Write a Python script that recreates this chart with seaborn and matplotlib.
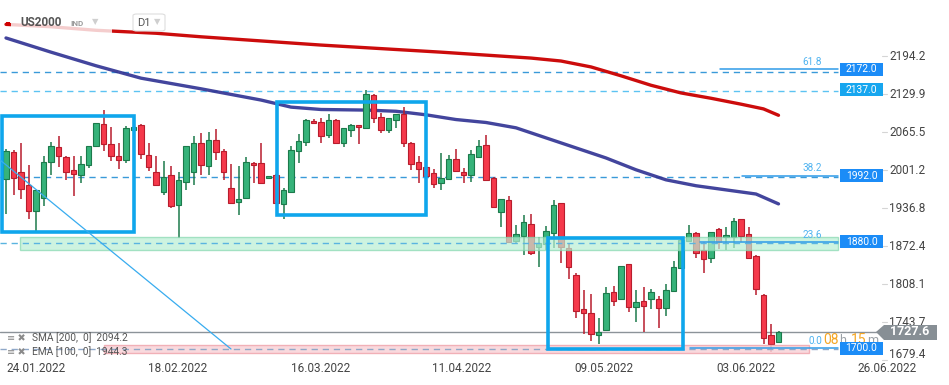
import matplotlib
matplotlib.use("Agg")
import matplotlib.pyplot as plt
from matplotlib.patches import Rectangle, FancyBboxPatch, Polygon
import numpy as np
import pandas as pd
import seaborn as sns

# daily candles, US2000 (D1)
opens = [1986, 2032, 1998, 1976, 1933, 1955, 2016, 2040, 2023, 2001,
         1994, 2010, 2043, 2079, 2045, 2025, 2018, 2070, 2077, 2027,
         1998, 1964, 1993, 1942, 1981, 1998, 2048, 2008, 2052, 2033,
         1972, 1947, 1955, 2014, 2013, 1988, 1993, 1944, 1964, 2033,
         2049, 2085, 2083, 2061, 2087, 2047, 2070, 2077, 2072, 2129,
         2091, 2070, 2087, 2096, 2048, 2015, 2006, 1996, 1979, 1986,
         2021, 1999, 1994, 2024, 2044, 1988, 1930, 1951, 1882, 1890,
         1910, 1871, 1877, 1895, 1945, 1869, 1824, 1766, 1759, 1722,
         1731, 1796, 1783, 1843, 1770, 1780, 1783, 1783, 1769, 1797,
         1835, 1882, 1895, 1866, 1852, 1901, 1888, 1889, 1918, 1893,
         1856, 1791, 1722, 1711]
highs = [2038, 2035, 2048, 2010, 1968, 2025, 2049, 2059, 2025, 2025,
         2025, 2043, 2081, 2103, 2074, 2048, 2076, 2075, 2080, 2048,
         2025, 2017, 2008, 1998, 2042, 2059, 2064, 2066, 2071, 2037,
         2012, 2008, 2023, 2015, 2048, 1992, 1995, 1971, 2042, 2062,
         2088, 2088, 2089, 2096, 2088, 2072, 2079, 2077, 2137, 2131,
         2098, 2089, 2096, 2108, 2049, 2025, 2008, 2003, 2031, 2027,
         2037, 2005, 2035, 2052, 2061, 1990, 1952, 1958, 1909, 1925,
         1928, 1889, 1907, 1951, 1946, 1876, 1827, 1799, 1792, 1752,
         1803, 1805, 1840, 1843, 1799, 1803, 1800, 1789, 1809, 1848,
         1889, 1909, 1896, 1880, 1897, 1904, 1905, 1920, 1919, 1905,
         1858, 1792, 1741, 1730]
lows = [1927, 1959, 1952, 1919, 1899, 1940, 1993, 2007, 1984, 1958,
        1980, 2005, 2043, 2034, 2017, 2003, 2013, 2069, 2020, 2000,
        1977, 1960, 1938, 1886, 1967, 1976, 1993, 1993, 2019, 1984,
        1945, 1925, 1953, 1979, 1978, 1986, 1945, 1918, 1964, 2014,
        2042, 2080, 2048, 2055, 2046, 2041, 2058, 2045, 2072, 2081,
        2064, 2065, 2073, 2040, 2001, 1980, 1990, 1972, 1967, 1986,
        2000, 1979, 1982, 2024, 1983, 1937, 1905, 1880, 1876, 1858,
        1857, 1837, 1866, 1869, 1845, 1817, 1752, 1724, 1713, 1707,
        1729, 1772, 1783, 1762, 1745, 1728, 1766, 1734, 1755, 1795,
        1834, 1880, 1852, 1828, 1845, 1868, 1867, 1869, 1880, 1851,
        1791, 1708, 1693, 1710]
closes = [2034, 1988, 1969, 1933, 1967, 2015, 2042, 2026, 1998, 1995,
          2011, 2043, 2081, 2045, 2025, 2018, 2072, 2074, 2028, 2006,
          1977, 1989, 1940, 1984, 2042, 2047, 2010, 2052, 2032, 1999,
          1945, 1952, 2015, 2010, 1979, 1992, 1945, 1967, 2036, 2051,
          2087, 2081, 2060, 2087, 2047, 2072, 2077, 2074, 2131, 2089,
          2069, 2089, 2096, 2047, 2011, 2004, 1992, 1978, 1988, 2021,
          2000, 1994, 2029, 2042, 1985, 1939, 1952, 1880, 1893, 1913,
          1862, 1878, 1898, 1943, 1871, 1837, 1763, 1759, 1724, 1728,
          1793, 1780, 1840, 1770, 1778, 1772, 1796, 1768, 1799, 1837,
          1884, 1895, 1862, 1851, 1897, 1880, 1891, 1915, 1890, 1853,
          1800, 1717, 1707, 1727.6]

# moving averages (sampled along the candle index)
sma_idx = [0, 6, 12, 20, 26, 34, 42, 50, 58, 64, 70, 74, 78, 82, 86, 90, 94, 98, 101, 103]
sma_val = [2248, 2244, 2238, 2233, 2227, 2220, 2213, 2207, 2201, 2196,
           2191, 2186, 2176, 2161, 2145, 2132, 2123, 2113, 2105, 2094.2]
ema_idx = [0, 6, 12, 18, 26, 34, 38, 42, 48, 52, 56, 60, 64, 68, 72, 76, 80, 84, 88, 92, 96, 100, 103]
ema_val = [2225, 2201, 2178, 2157, 2139, 2120, 2108, 2104, 2103, 2101, 2095, 2087,
           2082, 2073, 2056, 2039, 2022, 2002, 1985, 1975, 1968, 1961, 1944.3]

price_ticks = [2194.2, 2129.9, 2065.5, 2001.2, 1936.8, 1872.4, 1808.1, 1743.7, 1679.4]
date_labels = ["24.01.2022", "18.02.2022", "16.03.2022", "11.04.2022",
               "09.05.2022", "03.06.2022", "26.06.2022"]
date_pos = [4.0, 22.9, 41.9, 60.8, 79.7, 98.7, 117.5]

fib_labels = ["61.8", "38.2", "23.6", "0.0"]
fib_levels = [2172.0, 1992.0, 1880.0, 1700.0]
level_boxes = [2172.0, 2137.0, 1992.0, 1880.0, 1700.0]
last_price = 1727.6


# pixel -> data helpers (for drawing tools / labels)
def dx(px):
    return (px - 6) / 7.5


def dy(py):
    return 2289.24 - 1.6918 * py


W, H = 949, 385
sns.set_style("white")
plt.rcParams["font.family"] = ["Roboto", "DejaVu Sans"]

fig = plt.figure(figsize=(W / 100, H / 100), dpi=100)
ax = fig.add_axes([0, 0, 1, 1])
ax.set_xlim(dx(0), dx(W))
ax.set_ylim(dy(H), dy(0))
ax.axis("off")

# moving averages
sma = pd.DataFrame({"idx": sma_idx, "val": sma_val})
ema = pd.DataFrame({"idx": ema_idx, "val": ema_val})
sns.lineplot(data=sma, x="idx", y="val", ax=ax, color="#cc0c0c", lw=2.4, zorder=2)
sns.lineplot(data=ema, x="idx", y="val", ax=ax, color="#2e3192", lw=2.4, alpha=0.9, zorder=2)

# horizontal levels
xr = [dx(0), dx(838)]
ax.plot(xr, [2168.0, 2168.0], color="#3a9ad9", lw=1.0, ls=(0, (4.5, 3.5)), zorder=1.5)
ax.plot(xr, [2135.5, 2135.5], color="#5cc3f2", lw=1.0, ls=(0, (4.5, 3.5)), zorder=1.5)
ax.plot(xr, [1989.3, 1989.3], color="#3a9ad9", lw=1.0, ls=(0, (4.5, 3.5)), zorder=1.5)
ax.plot(xr, [1878.5, 1878.5], color="#5ab4e0", lw=1.0, ls=(0, (4.5, 3.5)), zorder=4.5)
ax.plot(xr, [1699.0, 1699.0], color="#8fa8c8", lw=1.0, ls=(0, (4.5, 3.5)), zorder=4.5)

# fibonacci tool
fib_start = [720, 742, 700, 690]
for lvl, lab, xs in zip(fib_levels, fib_labels, fib_start):
    ax.plot([dx(xs), dx(838)], [lvl, lvl], color="#2f9be8", lw=1.1, zorder=4.6)
    ax.text(dx(822), lvl + 4, lab, color="#4fb3f0", fontsize=7.2, ha="right", va="bottom", zorder=6)

# current price line
ax.plot([dx(0), dx(880)], [last_price, last_price], color="#8c9399", lw=1.0, zorder=2.5)

# candles
x = np.arange(len(opens))
o = np.array(opens, float)
c = np.array(closes, float)
up = c >= o
face = np.where(up, "#36b37a", "#f5394b")
edge = np.where(up, "#1c7a4b", "#b81d2d")
ax.vlines(x, lows, highs, colors=edge, lw=1.1, zorder=3)
body_lo = np.minimum(o, c)
body_h = np.maximum(np.abs(c - o), 2.5)
ax.bar(x, body_h, bottom=body_lo, width=0.68, color=face, edgecolor=edge, lw=0.8, zorder=3.2)

# zones
ax.add_patch(Rectangle((dx(20), dy(250)), dx(838) - dx(20), dy(237) - dy(250),
                       facecolor="#b8eed4", edgecolor="#86d8b0", lw=1.0, alpha=0.7, zorder=4))
ax.add_patch(Rectangle((dx(104), dy(353)), dx(809) - dx(104), dy(345) - dy(353),
                       facecolor="#f9d3d7", edgecolor="#f0a6ae", lw=1.0, alpha=0.85, zorder=4))

# rectangles and trend line
for x0, y0, x1, y1 in [(1.5, 116, 134, 232), (276.5, 101.5, 426, 215.5), (547.5, 238, 682.5, 349)]:
    ax.add_patch(Rectangle((dx(x0), dy(y1)), dx(x1) - dx(x0), dy(y0) - dy(y1),
                           fill=False, edgecolor="#0fa6ec", lw=2.6, zorder=5))
ax.plot([dx(0), dx(231)], [dy(160), dy(349)], color="#38acef", lw=0.9, zorder=5)

# price axis
for v in price_ticks:
    yv = max(v, dy(354))
    ax.text(dx(889), yv, f"{v:.1f}", color="#444444", fontsize=8.5, va="center", ha="left", zorder=6)
    ax.plot([dx(882), dx(887)], [v, v], color="#d5d5d5", lw=0.8, zorder=6)

# level boxes
for v in level_boxes:
    col = "#17a6ef" if v == 2137.0 else "#1b8cf7"
    ax.add_patch(Rectangle((dx(840), v - 6.8 * 1.6918 / 1.0 * 0.95), dx(883) - dx(840), 13 * 1.6918,
                           facecolor=col, edgecolor="none", zorder=7))
    ax.text(dx(861.5), v, f"{v:.1f}", color="white", fontsize=7.4, ha="center", va="center", zorder=8)

# countdown
ax.text(dx(823), dy(340), "08", color="#f5a623", fontsize=10, ha="left", va="center", zorder=6)
ax.text(dx(839), dy(340), "h", color="#9aa0a6", fontsize=9, ha="left", va="center", zorder=6)
ax.text(dx(851), dy(340), "15", color="#f5a623", fontsize=10, ha="left", va="center", zorder=6)
ax.text(dx(867), dy(340), "m", color="#9aa0a6", fontsize=9, ha="left", va="center", zorder=6)

# last price tag
tag = Polygon([(dx(876), last_price), (dx(884), dy(325)), (dx(937), dy(325)),
               (dx(937), dy(340)), (dx(884), dy(340))], closed=True,
              facecolor="#878f95", edgecolor="none", zorder=8)
ax.add_patch(tag)
ax.text(dx(910), last_price, f"{last_price:.1f}", color="white", fontsize=9,
        fontweight="bold", ha="center", va="center", zorder=9)

# date axis
for p, lab in zip(date_pos, date_labels):
    ax.text(p, dy(369), lab, color="#444444", fontsize=8.5, ha="center", va="center")

# indicator legend
ax.text(dx(7), dy(338), "≡ ✖", color="#8a8a8a", fontsize=7, va="center", ha="left", zorder=9)
ax.text(dx(32), dy(338), "SMA [200,  0]  2094.2", color="#555555", fontsize=7.3, va="center", zorder=9)
ax.text(dx(7), dy(352), "≡ ✖", color="#8a8a8a", fontsize=7, va="center", ha="left", zorder=9)
ax.text(dx(32), dy(352), "EMA [100,  0]  1944.3", color="#555555", fontsize=7.3, va="center", zorder=9)

# header
ax.add_patch(Rectangle((dx(11), dy(34)), dx(112) - dx(11), dy(12) - dy(34),
                       facecolor="white", edgecolor="none", alpha=0.8, zorder=7))
ax.add_patch(Rectangle((dx(6), dy(26)), dx(10) - dx(6), dy(22) - dy(26),
                       facecolor="#d00000", edgecolor="none", zorder=8))
fig.text(20 / W, 1 - 23 / H, "US2000", color="#555555", fontsize=8.5, fontweight="bold", va="center")
fig.text(70 / W, 1 - 23 / H, "IND", color="#9a9a9a", fontsize=5.8, fontweight="bold", va="center")
fig.text(92 / W, 1 - 22 / H, "▼", color="#cfcfcf", fontsize=6, va="center")
fig.patches.append(FancyBboxPatch((133 / W, 1 - 31 / H), 32 / W, 17 / H,
                                  boxstyle="round,pad=0,rounding_size=0.004",
                                  transform=fig.transFigure, facecolor="white",
                                  edgecolor="#dddddd", lw=0.8, zorder=8))
fig.text(137 / W, 1 - 23 / H, "D1", color="#555555", fontsize=8, va="center", zorder=9)
fig.text(154 / W, 1 - 22 / H, "▼", color="#cfcfcf", fontsize=6, va="center", zorder=9)

fig.savefig("out.png", dpi=100)
